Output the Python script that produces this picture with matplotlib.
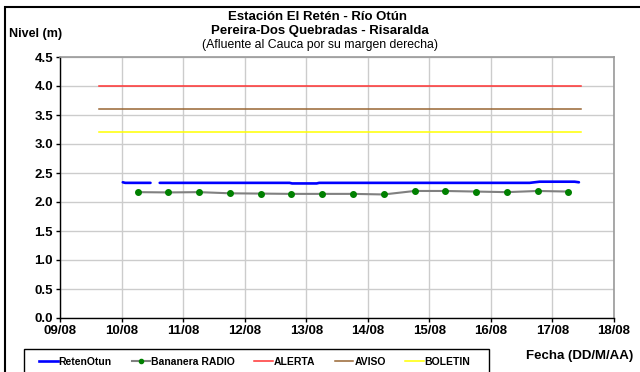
import matplotlib
matplotlib.use("Agg")
import matplotlib.pyplot as plt
import numpy as np
from matplotlib.patches import Rectangle
from matplotlib.lines import Line2D

plt.rcParams['font.family'] = ['Liberation Sans', 'DejaVu Sans']

# x in days since 09/08 00:00
reten_t = [1.02, 1.06, 1.47, 1.55, 1.62, 3.73, 3.77, 4.17, 4.21, 7.63, 7.79, 8.36, 8.43]
reten_v = [2.34, 2.33, 2.33, np.nan, 2.33, 2.33, 2.32, 2.32, 2.33, 2.33, 2.35, 2.35, 2.34]

banan_t = [1.26, 1.76, 2.26, 2.76, 3.26, 3.76, 4.26, 4.76, 5.26, 5.76, 6.26, 6.76, 7.26, 7.76, 8.26]
banan_v = [2.17, 2.165, 2.17, 2.15, 2.145, 2.14, 2.14, 2.14, 2.13, 2.19, 2.19, 2.18, 2.17, 2.19, 2.18]

thr_t = [0.64, 8.47]
alerta = 4.0
aviso = 3.6
boletin = 3.2

xtick_labels = ['09/08', '10/08', '11/08', '12/08', '13/08', '14/08', '15/08', '16/08', '17/08', '18/08']
yticks = [0.0, 0.5, 1.0, 1.5, 2.0, 2.5, 3.0, 3.5, 4.0, 4.5]

fig = plt.figure(figsize=(6.4, 3.72), dpi=100)
ax = fig.add_axes([60/640, 1-318/372, (614-60)/640, (318-57)/372])

ax.plot(thr_t, [alerta]*2, color='#ff3333', lw=1.1, zorder=3)
ax.plot(thr_t, [aviso]*2, color='#996633', lw=1.1, zorder=3)
ax.plot(thr_t, [boletin]*2, color='#ffff00', lw=1.1, zorder=3)
ax.plot(reten_t, reten_v, color='#0000ff', lw=1.9, zorder=4, solid_capstyle='round')
ax.plot(banan_t, banan_v, color='#808080', lw=1.5, marker='o', markersize=4,
        markerfacecolor='#008000', markeredgecolor='#008000', zorder=4)

ax.set_xlim(0, 9)
ax.set_ylim(0, 4.5)
ax.set_xticks(range(10))
ax.set_xticklabels(xtick_labels, fontsize=9.5, fontweight='bold')
ax.set_yticks(yticks)
ax.set_yticklabels([f'{v:.1f}' for v in yticks], fontsize=9.5, fontweight='bold')
ax.tick_params(direction='out', length=3, width=1, pad=2)
ax.grid(True, color='#cccccc', lw=1)
ax.set_axisbelow(True)
for s in ['top', 'right']:
    ax.spines[s].set_color('#999999')
    ax.spines[s].set_linewidth(1.2)
for s in ['left', 'bottom']:
    ax.spines[s].set_color('black')
    ax.spines[s].set_linewidth(1)

# titles
fig.text(318/640, 1-17/372, 'Estación El Retén - Río Otún', ha='center', va='center',
         fontsize=9.5, fontweight='bold')
fig.text(320/640, 1-31/372, 'Pereira-Dos Quebradas - Risaralda', ha='center', va='center',
         fontsize=9.5, fontweight='bold')
fig.text(320/640, 1-45/372, '(Afluente al Cauca por su margen derecha)', ha='center', va='center',
         fontsize=8.8)
fig.text(9/640, 1-34/372, 'Nivel (m)', ha='left', va='center', fontsize=9, fontweight='bold')
fig.text(580/640, 1-356/372, 'Fecha (DD/M/AA)', ha='center', va='center', fontsize=9.5, fontweight='bold')

# outer frame
fig.patches.append(Rectangle((5/640, -0.1), 1.2, 1 - 7/372 + 0.1, transform=fig.transFigure,
                             fill=False, edgecolor='black', lw=1.5))
# legend box
fig.patches.append(Rectangle((24/640, -0.1), (489-24)/640, 1 - 349/372 + 0.1,
                             transform=fig.transFigure, fill=False, edgecolor='black', lw=1))

handles = [
    Line2D([], [], color='#0000ff', lw=1.9),
    Line2D([], [], color='#808080', lw=1.5, marker='o', markersize=3,
           markerfacecolor='#008000', markeredgecolor='#008000'),
    Line2D([], [], color='#ff3333', lw=1.1),
    Line2D([], [], color='#996633', lw=1.1),
    Line2D([], [], color='#ffff00', lw=1.1),
]
labels = ['RetenOtun', 'Bananera RADIO', 'ALERTA', 'AVISO', 'BOLETIN']
fig.legend(handles, labels, loc='center', bbox_to_anchor=(255/640, 1-362/372), ncol=5,
           frameon=False, prop={'size': 7.5, 'weight': 'bold'}, handlelength=1.75,
           handletextpad=0.1, columnspacing=1.9, borderpad=0)

fig.savefig('out.png', dpi=100)
